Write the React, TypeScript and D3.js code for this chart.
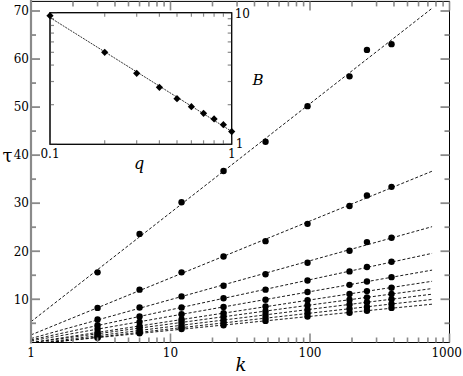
import React from 'react';
import * as d3 from 'd3';

// k values where tau was measured
const kValues = [3, 6, 12, 24, 48, 96, 192, 256, 384];

// tau(k) for each q
const tauQ1 = [15.6, 23.6, 30.2, 36.7, 42.8, 50.2, 56.4, 61.9, 63.1];
const tauQ2 = [8.2, 12.0, 15.6, 18.9, 22.1, 25.7, 29.4, 31.6, 33.4];
const tauQ3 = [5.8, 8.3, 10.6, 12.8, 15.2, 17.6, 20.1, 21.9, 22.8];
const tauQ4 = [4.6, 6.4, 8.3, 10.2, 12.0, 13.9, 15.8, 16.7, 17.8];
const tauQ5 = [3.8, 5.3, 6.9, 8.4, 9.9, 11.5, 13.0, 13.7, 14.6];
const tauQ6 = [3.1, 4.4, 5.8, 7.1, 8.5, 9.8, 11.1, 11.7, 12.4];
const tauQ7 = [2.8, 4.0, 5.2, 6.4, 7.5, 8.7, 9.9, 10.4, 11.1];
const tauQ8 = [2.4, 3.5, 4.6, 5.7, 6.8, 7.8, 8.9, 9.4, 10.0];
const tauQ9 = [2.1, 3.1, 4.1, 5.1, 6.1, 7.1, 8.0, 8.4, 9.0];
const tauQ10 = [2.0, 2.9, 3.8, 4.6, 5.5, 6.4, 7.2, 7.6, 8.2];
const allTau = [tauQ1, tauQ2, tauQ3, tauQ4, tauQ5, tauQ6, tauQ7, tauQ8, tauQ9, tauQ10];

// inset: slope B against q
const qValues = [0.1, 0.2, 0.3, 0.4, 0.5, 0.6, 0.7, 0.8, 0.9, 1.0];
const bValues = [9.5, 5.0, 3.46, 2.71, 2.22, 1.93, 1.72, 1.56, 1.41, 1.25];

const yTicks = [10, 20, 30, 40, 50, 60, 70];
const xTickLabels = [1, 10, 100, 1000];
const fitRange = [1, 750];

const serif = 'DejaVu Serif';
const tickGrey = '#8a8a8a';

// least squares y = a + b x
function fit(xs: number[], ys: number[]) {
  const mx = d3.mean(xs) as number;
  const my = d3.mean(ys) as number;
  const b = d3.sum(xs.map((x, i) => (x - mx) * (ys[i] - my))) / d3.sum(xs.map((x) => (x - mx) ** 2));
  return { a: my - b * mx, b };
}

const isDecade = (v: number) => Math.abs(Math.log10(v) - Math.round(Math.log10(v))) < 1e-9;

const App = () => {
  const width = 463;
  const height = 376;
  const left = 31, right = 449.5, top = 1.4, bottom = 342.5;

  const x = d3.scaleLog().domain([1, 1000]).range([left, right]);
  const y = d3.scaleLinear().domain([1, 72]).range([bottom, top]);

  // inset
  const iL = 50, iR = 231.7, iT = 12.7, iB = 144.3;
  const ix = d3.scaleLog().domain([0.1, 1]).range([iL, iR]);
  const iy = d3.scaleLog().domain([1, 10]).range([iB, iT]);

  const logK = kValues.map(Math.log10);
  const fits = allTau.map((s) => fit(logK, s));
  const iFit = fit(qValues.map(Math.log10), bValues.map(Math.log10));

  const xTicks = x.ticks();
  const yMinor = d3.range(5, 72, 5);
  const ixTicks = ix.ticks();
  const iyTicks = iy.ticks();

  const txt = { fontFamily: serif };

  return (
    <svg width={width} height={height} style={{ position: 'absolute', left: 0, top: 0, background: '#fff' }}>
      <defs>
        <clipPath id="plotClip">
          <rect x={left} y={top} width={right - left} height={bottom - top} />
        </clipPath>
      </defs>
      <rect x={0} y={0} width={width} height={height} fill="#fff" />

      {/* fit lines */}
      <g clipPath="url(#plotClip)">
        {fits.map((f, i) => (
          <path
            key={i}
            d={d3.line<number>().x((k) => x(k)).y((k) => y(f.a + f.b * Math.log10(k)))(fitRange) as string}
            fill="none"
            stroke="#000"
            strokeWidth={0.9}
            strokeDasharray="3,2"
          />
        ))}
      </g>

      {/* data */}
      {allTau.map((s, i) =>
        s.map((v, j) => <circle key={`${i}-${j}`} cx={x(kValues[j])} cy={y(v)} r={3.2} fill="#000" />)
      )}

      {/* frame */}
      <rect x={left} y={top} width={right - left} height={bottom - top} fill="none" stroke="#000" strokeWidth={1} />
      <line x1={left} x2={left} y1={0} y2={bottom + 1} stroke={tickGrey} strokeWidth={2.2} />

      {/* x ticks bottom and top */}
      {xTicks.map((t, i) => {
        const len = isDecade(t) ? 9 : 5;
        return (
          <g key={i}>
            <line x1={x(t)} x2={x(t)} y1={bottom} y2={bottom - len} stroke={tickGrey} strokeWidth={1.6} />
            <line x1={x(t)} x2={x(t)} y1={top} y2={top + len} stroke={tickGrey} strokeWidth={1.6} />
          </g>
        );
      })}
      {xTickLabels.map((t, i) => {
        const last = i === xTickLabels.length - 1;
        return (
          <text
            key={t}
            x={last ? width - 1 : x(t)}
            y={357}
            textAnchor={last ? 'end' : 'middle'}
            style={txt}
            fontSize={12}
          >
            {t}
          </text>
        );
      })}

      {/* y ticks left and right */}
      {yTicks.map((t) => (
        <g key={t}>
          <line x1={left} x2={left + 9} y1={y(t)} y2={y(t)} stroke={tickGrey} strokeWidth={1.8} />
          <line x1={right} x2={right - 9} y1={y(t)} y2={y(t)} stroke={tickGrey} strokeWidth={1.8} />
          <text x={29} y={y(t) + 4.3} textAnchor="end" style={txt} fontSize={12}>
            {t}
          </text>
        </g>
      ))}
      {yMinor.filter((t) => t % 10 !== 0).map((t) => (
        <g key={t}>
          <line x1={left} x2={left + 5} y1={y(t)} y2={y(t)} stroke={tickGrey} strokeWidth={1.8} />
          <line x1={right} x2={right - 5} y1={y(t)} y2={y(t)} stroke={tickGrey} strokeWidth={1.8} />
        </g>
      ))}

      {/* axis titles */}
      <text x={7.5} y={162} textAnchor="middle" style={txt} fontSize={18}>
        τ
      </text>
      <text x={241} y={371} textAnchor="middle" style={txt} fontSize={18} fontStyle="italic">
        k
      </text>
      <text x={258} y={85} textAnchor="middle" style={txt} fontSize={15} fontStyle="italic">
        B
      </text>

      {/* inset */}
      <rect x={iL} y={iT} width={iR - iL} height={iB - iT} fill="#fff" stroke="#000" strokeWidth={1} />
      {ixTicks.map((t, i) => {
        const len = isDecade(t) ? 7 : 4;
        return (
          <g key={i}>
            <line x1={ix(t)} x2={ix(t)} y1={iB} y2={iB - len} stroke={tickGrey} strokeWidth={1.2} />
            <line x1={ix(t)} x2={ix(t)} y1={iT} y2={iT + len} stroke={tickGrey} strokeWidth={1.2} />
          </g>
        );
      })}
      {iyTicks.map((t, i) => {
        const len = isDecade(t) ? 7 : 4;
        return (
          <g key={i}>
            <line x1={iL} x2={iL + len} y1={iy(t)} y2={iy(t)} stroke={tickGrey} strokeWidth={1.2} />
            <line x1={iR} x2={iR - len} y1={iy(t)} y2={iy(t)} stroke={tickGrey} strokeWidth={1.2} />
          </g>
        );
      })}
      <path
        d={
          d3
            .line<number>()
            .x((q) => ix(q))
            .y((q) => iy(10 ** (iFit.a + iFit.b * Math.log10(q))))([0.1, 1]) as string
        }
        fill="none"
        stroke="#000"
        strokeWidth={0.8}
        strokeDasharray="2,1"
      />
      {qValues.map((q, i) => (
        <path
          key={q}
          d={d3.symbol().type(d3.symbolSquare).size(26)() as string}
          transform={`translate(${ix(q)},${iy(bValues[i])}) rotate(45)`}
          fill="#000"
        />
      ))}
      <rect x={iL} y={iT} width={iR - iL} height={iB - iT} fill="none" stroke="#000" strokeWidth={1} />
      <text x={ix(0.1)} y={158} textAnchor="middle" style={txt} fontSize={12}>
        0.1
      </text>
      <text x={ix(1)} y={158} textAnchor="middle" style={txt} fontSize={12}>
        1
      </text>
      <text x={iR + 3} y={iy(10) + 5} textAnchor="start" style={txt} fontSize={12}>
        10
      </text>
      <text x={iR + 4} y={iy(1) + 4} textAnchor="start" style={txt} fontSize={12}>
        1
      </text>
      <text x={139} y={169} textAnchor="middle" style={txt} fontSize={16} fontStyle="italic">
        q
      </text>
    </svg>
  );
};

export default App;
